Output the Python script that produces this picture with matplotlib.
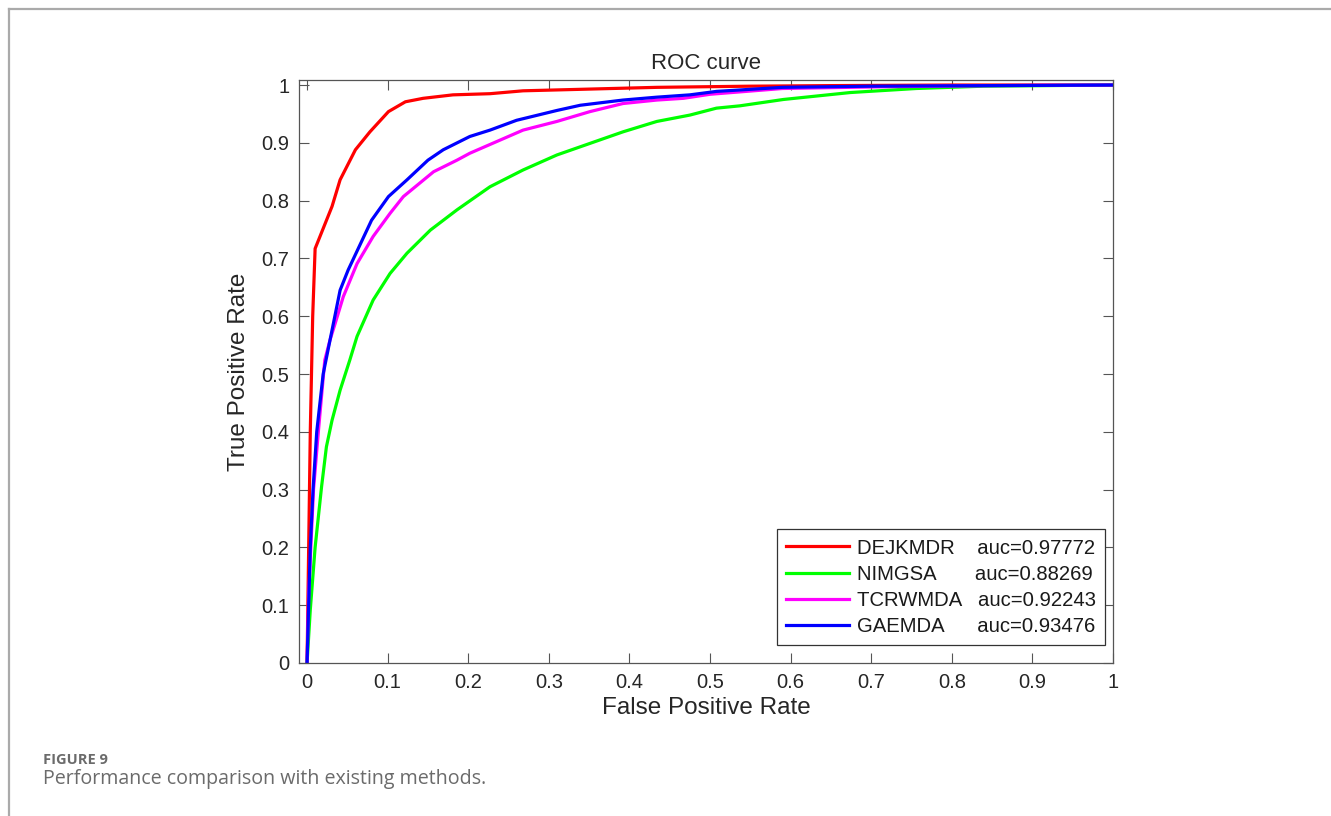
import matplotlib
matplotlib.use("Agg")
import matplotlib.pyplot as plt
from matplotlib.lines import Line2D

# ---- data ----
methods = ["DEJKMDR", "NIMGSA", "TCRWMDA", "GAEMDA"]
auc_values = ["0.97772", "0.88269", "0.92243", "0.93476"]
colors = ["#ff0000", "#00ff00", "#ff00ff", "#0000ff"]

dejkmdr_fpr = [0.0, 0.002, 0.004, 0.007, 0.010, 0.031, 0.041, 0.060, 0.078, 0.101, 0.122,
               0.144, 0.181, 0.227, 0.268, 0.351, 0.434, 0.55, 0.65, 0.8, 1.0]
dejkmdr_tpr = [0.0, 0.20, 0.40, 0.60, 0.717, 0.790, 0.836, 0.888, 0.919, 0.954, 0.971,
               0.977, 0.983, 0.985, 0.990, 0.993, 0.996, 0.998, 0.999, 1.0, 1.0]

nimgsa_fpr = [0.0, 0.004, 0.010, 0.018, 0.024, 0.031, 0.041, 0.053, 0.062, 0.082, 0.103,
              0.124, 0.153, 0.186, 0.227, 0.268, 0.310, 0.351, 0.392, 0.434, 0.475,
              0.508, 0.537, 0.591, 0.674, 0.756, 0.839, 0.92, 1.0]
nimgsa_tpr = [0.0, 0.092, 0.200, 0.305, 0.374, 0.420, 0.472, 0.524, 0.565, 0.628, 0.674,
              0.709, 0.749, 0.784, 0.824, 0.853, 0.879, 0.899, 0.919, 0.937, 0.948,
              0.960, 0.964, 0.975, 0.987, 0.994, 0.998, 0.999, 1.0]

tcrwmda_fpr = [0.0, 0.002, 0.008, 0.014, 0.022, 0.0285, 0.035, 0.045, 0.062, 0.082, 0.103,
               0.1195, 0.157, 0.186, 0.202, 0.235, 0.268, 0.310, 0.351, 0.392, 0.434,
               0.467, 0.500, 0.590, 0.715, 0.85, 1.0]
tcrwmda_tpr = [0.0, 0.12, 0.30, 0.40, 0.524, 0.559, 0.588, 0.634, 0.691, 0.738, 0.778,
               0.807, 0.850, 0.870, 0.882, 0.902, 0.922, 0.937, 0.954, 0.968, 0.974,
               0.977, 0.984, 0.994, 0.997, 0.999, 1.0]

gaemda_fpr = [0.0, 0.004, 0.0074, 0.012, 0.020, 0.031, 0.041, 0.051, 0.080, 0.101, 0.124,
              0.150, 0.169, 0.202, 0.227, 0.260, 0.310, 0.339, 0.392, 0.434, 0.475,
              0.508, 0.590, 0.70, 0.85, 1.0]
gaemda_tpr = [0.0, 0.20, 0.30, 0.40, 0.50, 0.576, 0.645, 0.680, 0.766, 0.807, 0.836,
              0.870, 0.888, 0.911, 0.922, 0.939, 0.956, 0.965, 0.974, 0.979, 0.983,
              0.989, 0.996, 0.998, 0.999, 1.0]

x_ticks = [0, 0.1, 0.2, 0.3, 0.4, 0.5, 0.6, 0.7, 0.8, 0.9, 1]
y_ticks = [0, 0.1, 0.2, 0.3, 0.4, 0.5, 0.6, 0.7, 0.8, 0.9, 1]
tick_labels = ["0", "0.1", "0.2", "0.3", "0.4", "0.5", "0.6", "0.7", "0.8", "0.9", "1"]

series = [(dejkmdr_fpr, dejkmdr_tpr), (nimgsa_fpr, nimgsa_tpr),
          (tcrwmda_fpr, tcrwmda_tpr), (gaemda_fpr, gaemda_tpr)]

plt.rcParams['font.family'] = ['Liberation Sans', 'DejaVu Sans']

W, H = 1331, 816
fig = plt.figure(figsize=(W / 100, H / 100), dpi=100)
fig.patch.set_facecolor("white")

# outer frame (top and left lines)
fig.add_artist(Line2D([9 / W, 1.0], [1 - 9 / H, 1 - 9 / H], transform=fig.transFigure,
                      color="#aaaaaa", lw=1.6))
fig.add_artist(Line2D([9 / W, 9 / W], [0.0, 1 - 9 / H], transform=fig.transFigure,
                      color="#aaaaaa", lw=1.6))

ax_l, ax_r, ax_b, ax_t = 299, 1113, 663, 80
ax = fig.add_axes([ax_l / W, 1 - ax_b / H, (ax_r - ax_l) / W, (ax_b - ax_t) / H])

handles = []
labels = [
    f"{methods[0]}    auc={auc_values[0]}",
    f"{methods[1]}       auc={auc_values[1]}",
    f"{methods[2]}   auc={auc_values[2]}",
    f"{methods[3]}      auc={auc_values[3]}",
]
for (fx, ty), c in zip(series, colors):
    h, = ax.plot(fx, ty, color=c, lw=2.3, solid_joinstyle="round")
    handles.append(h)

ax.set_xlim(-0.01, 1.0)
ax.set_ylim(0, 1.0087)
ax.set_xticks(x_ticks)
ax.set_xticklabels(tick_labels)
ax.set_yticks(y_ticks)
ax.set_yticklabels(tick_labels)

axcol = "#262626"
for s in ax.spines.values():
    s.set_color("#555555")
    s.set_linewidth(0.9)
ax.tick_params(direction="in", length=7, width=0.8, colors="#555555",
               top=True, right=True, labelsize=14.5, labelcolor=axcol, pad=7)

ax.set_xlabel("False Positive Rate", fontsize=17.5, color=axcol, labelpad=4)
ax.set_ylabel("True Positive Rate", fontsize=17.5, color=axcol, labelpad=8)
ax.set_title("ROC curve", fontsize=16, color=axcol, pad=8)

leg = ax.legend(handles, labels, loc="lower right",
                bbox_to_anchor=((1105 - ax_l) / (ax_r - ax_l), (ax_b - 645) / (ax_b - ax_t)),
                borderaxespad=0, fontsize=14.6, handlelength=3.1, handletextpad=0.4,
                labelspacing=0.35, borderpad=0.45, fancybox=False, framealpha=1,
                edgecolor="#333333")
leg.get_frame().set_linewidth(0.9)
for t in leg.get_texts():
    t.set_color("#1a1a1a")

# caption
fig.text(43 / W, 1 - 760 / H, "FIGURE 9", fontsize=10.5, fontweight="bold",
         color="#6b6b6b", family=["Open Sans", "DejaVu Sans"], va="center", ha="left")
fig.text(43 / W, 1 - 779 / H, "Performance comparison with existing methods.",
         fontsize=14.1, color="#6b6b6b", family=["Open Sans", "DejaVu Sans"],
         va="center", ha="left")

fig.savefig("out.png", dpi=100, facecolor="white")
